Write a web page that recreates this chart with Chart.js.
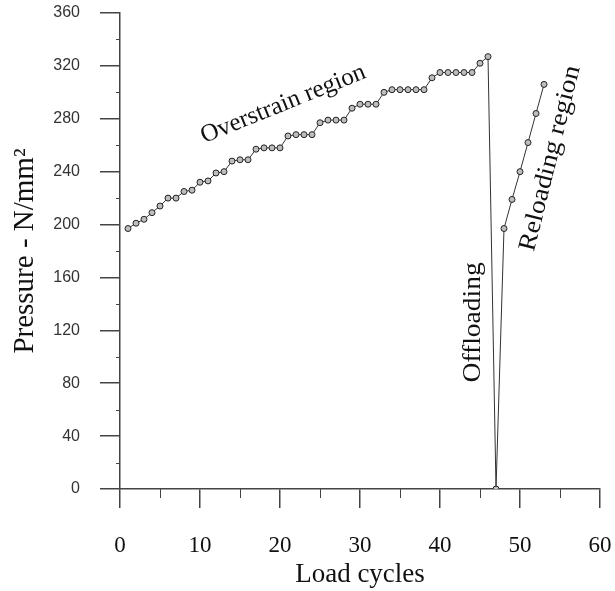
<!DOCTYPE html>
<html>
<head>
<meta charset="utf-8">
<script src="https://cdn.jsdelivr.net/npm/chart.js@4.4.1/dist/chart.umd.min.js"></script>
<style>
  html, body { margin: 0; padding: 0; background: #fff; }
  canvas { display: block; }
</style>
</head>
<body>
<canvas id="pressure_chart" width="615" height="591"></canvas>
<script>
// Load cycle number and measured pressure (N/mm2)
const cycles = [1, 2, 3, 4, 5, 6, 7, 8, 9, 10, 11, 12, 13, 14, 15, 16, 17, 18, 19, 20,
    21, 22, 23, 24, 25, 26, 27, 28, 29, 30, 31, 32, 33, 34, 35, 36, 37, 38, 39, 40,
    41, 42, 43, 44, 45, 46, 47, 48, 49, 50, 51, 52, 53];
const pressure = [197, 201, 204, 209, 214, 220, 220, 225, 226, 232, 233, 239, 240, 248, 249, 249, 257, 258, 258, 258,
    267, 268, 268, 268, 277, 279, 279, 279, 288, 291, 291, 291, 300, 302, 302, 302, 302, 302, 311, 315,
    315, 315, 315, 315, 322, 327, 0, 197, 219, 240, 262, 284, 306];

const xTicks = [0, 10, 20, 30, 40, 50, 60];
const yTicks = [0, 40, 80, 120, 160, 200, 240, 280, 320, 360];
const xMinor = [5, 15, 25, 35, 45, 55];
const yMinor = [20, 60, 100, 140, 180, 220, 260, 300, 340];

const regionNames = ['Overstrain region', 'Offloading', 'Reloading region'];

// where the region names sit (data units), how they are turned and stretched
const regionPlacement = [
    {x: 20.4, y: 291, angle: -22, stretch: 1.0},
    {x: 44.2, y: 126, angle: -90, stretch: 1.1},
    {x: 53.8, y: 250, angle: -76, stretch: 1.1}
];

const serif = '"Liberation Serif", "Times New Roman", serif';
const sans = '"Liberation Sans", Arial, sans-serif';

// chart.js pads the chart area for tick labels; the original doesn't
function noScalePadding(scale) {
    scale.paddingTop = 0;
    scale.paddingBottom = 0;
    scale.paddingLeft = 0;
    scale.paddingRight = 0;
}

const minorTicks = {
    id: 'minorTicks',
    afterDraw(chart) {
        const {ctx, scales: {x, y}} = chart;
        ctx.save();
        ctx.strokeStyle = '#444';
        ctx.lineWidth = 1;
        ctx.beginPath();
        for (const v of xMinor) {
            const px = Math.round(x.getPixelForValue(v)) + 0.5;
            ctx.moveTo(px, y.bottom);
            ctx.lineTo(px, y.bottom + 9);
        }
        for (const v of yMinor) {
            const py = Math.round(y.getPixelForValue(v)) + 0.5;
            ctx.moveTo(x.left - 4, py);
            ctx.lineTo(x.left, py);
        }
        ctx.stroke();
        ctx.restore();
    }
};

const regionLabels = {
    id: 'regionLabels',
    afterDatasetsDraw(chart) {
        const {ctx, scales: {x, y}} = chart;
        regionNames.forEach((text, i) => {
            const p = regionPlacement[i];
            ctx.save();
            ctx.translate(x.getPixelForValue(p.x), y.getPixelForValue(p.y));
            ctx.rotate(p.angle * Math.PI / 180);
            ctx.scale(p.stretch, 1);
            ctx.font = '25px ' + serif;
            ctx.fillStyle = '#111';
            ctx.textAlign = 'center';
            ctx.textBaseline = 'middle';
            ctx.fillText(text, 0, 0);
            ctx.restore();
        });
    }
};

const data = {
    datasets: [{
        label: 'Pressure',
        data: cycles.map((c, i) => ({x: c, y: pressure[i]})),
        showLine: true,
        borderColor: '#333',
        borderWidth: 1,
        pointRadius: 3,
        pointBackgroundColor: '#bdbdbd',
        pointBorderColor: '#222',
        pointBorderWidth: 1
    }]
};

const config = {
    type: 'scatter',
    data,
    options: {
        responsive: false,
        animation: false,
        layout: {padding: {top: 13, right: 15, left: 0, bottom: 0}},
        plugins: {legend: {display: false}, tooltip: {enabled: false}},
        scales: {
            x: {
                type: 'linear',
                min: 0,
                max: 60,
                afterBuildTicks: scale => { scale.ticks = xTicks.map(v => ({value: v})); },
                afterFit: scale => { scale.height = 102; noScalePadding(scale); },
                border: {color: '#444', width: 1.5},
                grid: {drawOnChartArea: false, tickLength: 19, color: '#444', lineWidth: 1.5},
                ticks: {color: '#111', font: {family: serif, size: 23}, padding: 24, maxRotation: 0},
                title: {display: true, text: 'Load cycles', color: '#111',
                    font: {family: serif, size: 27}, padding: {top: 0, bottom: 0}}
            },
            y: {
                min: 0,
                max: 360,
                afterBuildTicks: scale => { scale.ticks = yTicks.map(v => ({value: v})); },
                afterFit: scale => { scale.width = 120; noScalePadding(scale); },
                border: {color: '#444', width: 1.5},
                grid: {drawOnChartArea: false, tickLength: 20, color: '#444', lineWidth: 1.5},
                ticks: {color: '#333', font: {family: sans, size: 16}, padding: 20},
                title: {display: true, text: 'Pressure - N/mm\u00B2', color: '#111',
                    font: {family: serif, size: 29}, padding: {top: 8, bottom: 0}}
            }
        }
    },
    plugins: [minorTicks, regionLabels]
};

document.addEventListener('DOMContentLoaded', () => {
    const ctx = document.getElementById('pressure_chart').getContext('2d');
    new Chart(ctx, config);
});
</script>
</body>
</html>
